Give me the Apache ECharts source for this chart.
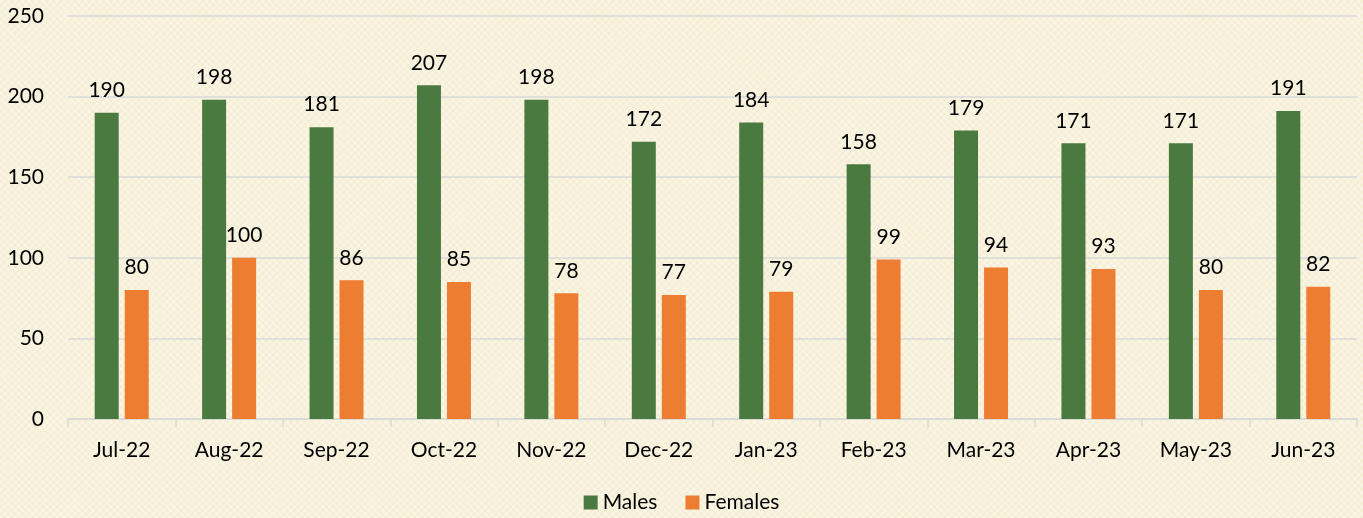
<!DOCTYPE html>
<html>
<head>
<meta charset="utf-8">
<script src="https://cdn.jsdelivr.net/npm/echarts@6/dist/echarts.min.js"></script>
<style>
  html, body { margin: 0; padding: 0; }
  body {
    background-color: #f8f2dc;
    background-image:
      repeating-linear-gradient(45deg, rgba(255,255,255,0.25) 0 2px, rgba(0,0,0,0) 2px 5px),
      repeating-linear-gradient(-45deg, rgba(220,205,160,0.12) 0 2px, rgba(0,0,0,0) 2px 5px);
  }
  #chart { width: 1363px; height: 518px; }
</style>
</head>
<body>
<div id="chart"></div>
<script>
var months = ['Jul-22', 'Aug-22', 'Sep-22', 'Oct-22', 'Nov-22', 'Dec-22', 'Jan-23', 'Feb-23', 'Mar-23', 'Apr-23', 'May-23', 'Jun-23']
var males = [190, 198, 181, 207, 198, 172, 184, 158, 179, 171, 171, 191]
var females = [80, 100, 86, 85, 78, 77, 79, 99, 94, 93, 80, 82]

var font = 'Lato, "Open Sans", sans-serif'
var chart = echarts.init(document.getElementById('chart'))
var labelStyle = {
  show: true,
  position: 'top',
  distance: 12,
  color: '#000',
  fontSize: 21,
  fontFamily: font
}
chart.setOption({
  backgroundColor: 'transparent',
  textStyle: { fontFamily: font },
  grid: { left: 68, right: 6, top: 16, bottom: 99, containLabel: false },
  legend: {
    bottom: 0,
    left: 'center',
    itemWidth: 14,
    itemHeight: 14,
    itemGap: 28,
    icon: 'rect',
    textStyle: { fontSize: 21, color: '#000', fontFamily: font },
    data: ['Males', 'Females']
  },
  xAxis: {
    type: 'category',
    data: months,
    axisLine: { lineStyle: { color: '#d9d9d9', width: 1.5 } },
    axisTick: { show: true, length: 8, lineStyle: { color: '#d9d9d9', width: 1.5 } },
    axisLabel: { color: '#000', fontSize: 21, margin: 21, fontFamily: font }
  },
  yAxis: {
    type: 'value',
    min: 0,
    max: 250,
    interval: 50,
    axisLine: { show: false },
    axisTick: { show: false },
    splitLine: { lineStyle: { color: '#d9d9d9', width: 1.5 } },
    axisLabel: { color: '#000', fontSize: 21, margin: 24, fontFamily: font }
  },
  series: [
    {
      name: 'Males',
      type: 'bar',
      data: males,
      barWidth: 24,
      barGap: '25%',
      itemStyle: { color: '#4a7a3f' },
      label: labelStyle
    },
    {
      name: 'Females',
      type: 'bar',
      data: females,
      barWidth: 24,
      itemStyle: { color: '#ed7d31' },
      label: labelStyle
    }
  ]
})
</script>
</body>
</html>
